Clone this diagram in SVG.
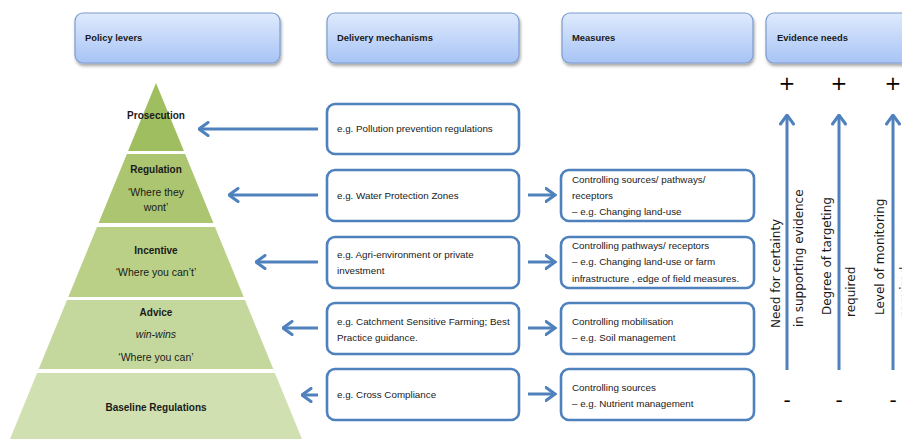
<svg xmlns="http://www.w3.org/2000/svg" width="902" height="439" viewBox="0 0 902 439">
  <defs>
    <linearGradient id="hdrFill" x1="0" y1="0" x2="0" y2="1">
      <stop offset="0" stop-color="#dfeafd"/>
      <stop offset="1" stop-color="#a7c4f5"/>
    </linearGradient>
    <filter id="hdrShadow" x="-10%" y="-20%" width="120%" height="150%">
      <feDropShadow dx="1" dy="2.5" stdDeviation="1.5" flood-color="#000" flood-opacity="0.35"/>
    </filter>
    <marker id="chev" viewBox="0 0 12 16" markerWidth="12" markerHeight="16" refX="10.5" refY="8" orient="auto" markerUnits="userSpaceOnUse">
      <path d="M1.5,1.5 L10.5,8 L1.5,14.5" fill="none" stroke="#4f81bd" stroke-width="3" stroke-linejoin="miter" stroke-linecap="round"/>
    </marker>
  </defs>
  <style>
    .hdr { fill: url(#hdrFill); stroke: #7d9ccf; stroke-width: 1.2; filter: url(#hdrShadow); }
    .hdrText { font-family: "Liberation Sans", Arial, sans-serif; font-size: 9.4px; font-weight: bold; fill: #1a1a1a; }
    .box { fill: #ffffff; stroke: #4f81bd; stroke-width: 2.6; }
    .boxText { font-family: "Liberation Sans", Arial, sans-serif; font-size: 9.8px; fill: #1a1a1a; }
    .lvl { font-family: "Liberation Sans", Arial, sans-serif; font-size: 10px; font-weight: bold; fill: #1a1a1a; text-anchor: middle; }
    .lvlSub { font-family: "Liberation Sans", Arial, sans-serif; font-size: 10.5px; fill: #1a1a1a; text-anchor: middle; }
    .conn { fill: none; stroke: #4f81bd; stroke-width: 3; marker-end: url(#chev); }
    .axis { font-family: "DejaVu Sans", Verdana, sans-serif; font-size: 12px; fill: #1a1a1a; }
    .sign { font-family: "DejaVu Sans", Verdana, sans-serif; fill: #000; text-anchor: middle; }
  </style>

  <rect width="902" height="439" fill="#ffffff"/>

  <!-- column headers -->
  <g id="hdr-policy">
    <rect class="hdr" x="75" y="13" width="205" height="50" rx="8"/>
    <text class="hdrText" x="85" y="41">Policy levers</text>
  </g>
  <g id="hdr-delivery">
    <rect class="hdr" x="327" y="13" width="192" height="50" rx="8"/>
    <text class="hdrText" x="337" y="41">Delivery mechanisms</text>
  </g>
  <g id="hdr-measures">
    <rect class="hdr" x="562" y="13" width="191" height="50" rx="8"/>
    <text class="hdrText" x="572" y="41">Measures</text>
  </g>
  <g id="hdr-evidence">
    <rect class="hdr" x="766" y="13" width="170" height="50" rx="8"/>
    <text class="hdrText" x="777" y="41">Evidence needs</text>
  </g>

  <!-- policy pyramid -->
  <g id="lvl-prosecution">
    <polygon points="156,83 183.9,151 128.1,151" fill="#9fbe5f"/>
    <text class="lvl" x="156" y="119">Prosecution</text>
  </g>
  <g id="lvl-regulation">
    <polygon points="126.9,154 185.1,154 213.4,223 98.6,223" fill="#abc570"/>
    <text class="lvl" x="156" y="173">Regulation</text>
    <text class="lvlSub" x="156" y="196">‘Where they</text>
    <text class="lvlSub" x="156" y="211">wont’</text>
  </g>
  <g id="lvl-incentive">
    <polygon points="97,227 215,227 243.7,297 68.3,297" fill="#b9d086"/>
    <text class="lvl" x="156" y="254">Incentive</text>
    <text class="lvlSub" x="156" y="276">‘Where you can’t’</text>
  </g>
  <g id="lvl-advice">
    <polygon points="67,300 245,300 273.3,369 38.7,369" fill="#c4d89d"/>
    <text class="lvl" x="156" y="316">Advice</text>
    <text class="lvlSub" x="156" y="338" font-style="italic">win-wins</text>
    <text class="lvlSub" x="156" y="361">‘Where you can’</text>
  </g>
  <g id="lvl-baseline">
    <polygon points="37.1,373 274.9,373 304.4,445 7.6,445" fill="#d0e0b1"/>
    <text class="lvl" x="156" y="411">Baseline  Regulations</text>
  </g>

  <!-- delivery mechanisms -->
  <g id="dm-pollution">
    <rect class="box" x="327" y="104" width="192" height="50" rx="8"/>
    <text class="boxText" x="337" y="132">e.g. Pollution prevention regulations</text>
  </g>
  <g id="dm-wpz">
    <rect class="box" x="327" y="170" width="192" height="51" rx="8"/>
    <text class="boxText" x="337" y="199">e.g. Water Protection Zones</text>
  </g>
  <g id="dm-agri">
    <rect class="box" x="327" y="237" width="192" height="51" rx="8"/>
    <text class="boxText" x="337" y="258">e.g. Agri-environment or private</text>
    <text class="boxText" x="337" y="274">investment</text>
  </g>
  <g id="dm-csf">
    <rect class="box" x="327" y="303" width="192" height="51" rx="8"/>
    <text class="boxText" x="337" y="325">e.g. Catchment Sensitive Farming; Best</text>
    <text class="boxText" x="337" y="341">Practice guidance.</text>
  </g>
  <g id="dm-cross">
    <rect class="box" x="327" y="369" width="192" height="51" rx="8"/>
    <text class="boxText" x="337" y="398">e.g. Cross Compliance</text>
  </g>

  <!-- measures -->
  <g id="ms-sources-pathways">
    <rect class="box" x="561" y="170" width="193" height="51" rx="8"/>
    <text class="boxText" x="572" y="183">Controlling sources/ pathways/</text>
    <text class="boxText" x="572" y="199">receptors</text>
    <text class="boxText" x="572" y="215">– e.g. Changing land-use</text>
  </g>
  <g id="ms-pathways">
    <rect class="box" x="561" y="237" width="193" height="51" rx="8"/>
    <text class="boxText" x="572" y="249">Controlling pathways/ receptors</text>
    <text class="boxText" x="572" y="265">– e.g. Changing land-use or farm</text>
    <text class="boxText" x="572" y="282">infrastructure , edge of field measures.</text>
  </g>
  <g id="ms-mobilisation">
    <rect class="box" x="561" y="303" width="193" height="51" rx="8"/>
    <text class="boxText" x="572" y="325">Controlling mobilisation</text>
    <text class="boxText" x="572" y="341">– e.g. Soil management</text>
  </g>
  <g id="ms-sources">
    <rect class="box" x="561" y="369" width="193" height="51" rx="8"/>
    <text class="boxText" x="572" y="391">Controlling sources</text>
    <text class="boxText" x="572" y="407">– e.g. Nutrient management</text>
  </g>

  <!-- evidence needs scales -->
  <g id="ev-certainty">
    <text class="sign" x="787" y="90" font-size="20">+</text>
    <text class="sign" x="787" y="407" font-size="20">-</text>
    <text class="axis" transform="translate(780,328) rotate(-90)">Need for certainty</text>
    <text class="axis" transform="translate(803,327) rotate(-90)">in supporting evidence</text>
  </g>
  <g id="ev-targeting">
    <text class="sign" x="839" y="90" font-size="20">+</text>
    <text class="sign" x="839" y="407" font-size="20">-</text>
    <text class="axis" transform="translate(831,315) rotate(-90)">Degree of targeting</text>
    <text class="axis" transform="translate(855,317) rotate(-90)">required</text>
  </g>
  <g id="ev-monitoring">
    <text class="sign" x="893" y="90" font-size="20">+</text>
    <text class="sign" x="893" y="407" font-size="20">-</text>
    <text class="axis" transform="translate(884,315) rotate(-90)">Level of monitoring</text>
    <text class="axis" transform="translate(909,317) rotate(-90)">required</text>
  </g>

  <!-- connectors -->
  <g id="connectors">
    <line class="conn" x1="318" y1="129" x2="199" y2="129"/>
    <line class="conn" x1="318" y1="195" x2="229" y2="195"/>
    <line class="conn" x1="318" y1="262" x2="256" y2="262"/>
    <line class="conn" x1="318" y1="328" x2="283" y2="328"/>
    <line class="conn" x1="318" y1="395" x2="302" y2="395"/>
    <line class="conn" x1="528" y1="195" x2="555" y2="195"/>
    <line class="conn" x1="528" y1="262" x2="555" y2="262"/>
    <line class="conn" x1="528" y1="328" x2="555" y2="328"/>
    <line class="conn" x1="528" y1="394" x2="555" y2="394"/>
    <line class="conn" x1="787" y1="370" x2="787" y2="115"/>
    <line class="conn" x1="839" y1="370" x2="839" y2="115"/>
    <line class="conn" x1="893" y1="370" x2="893" y2="115"/>
  </g>
</svg>
